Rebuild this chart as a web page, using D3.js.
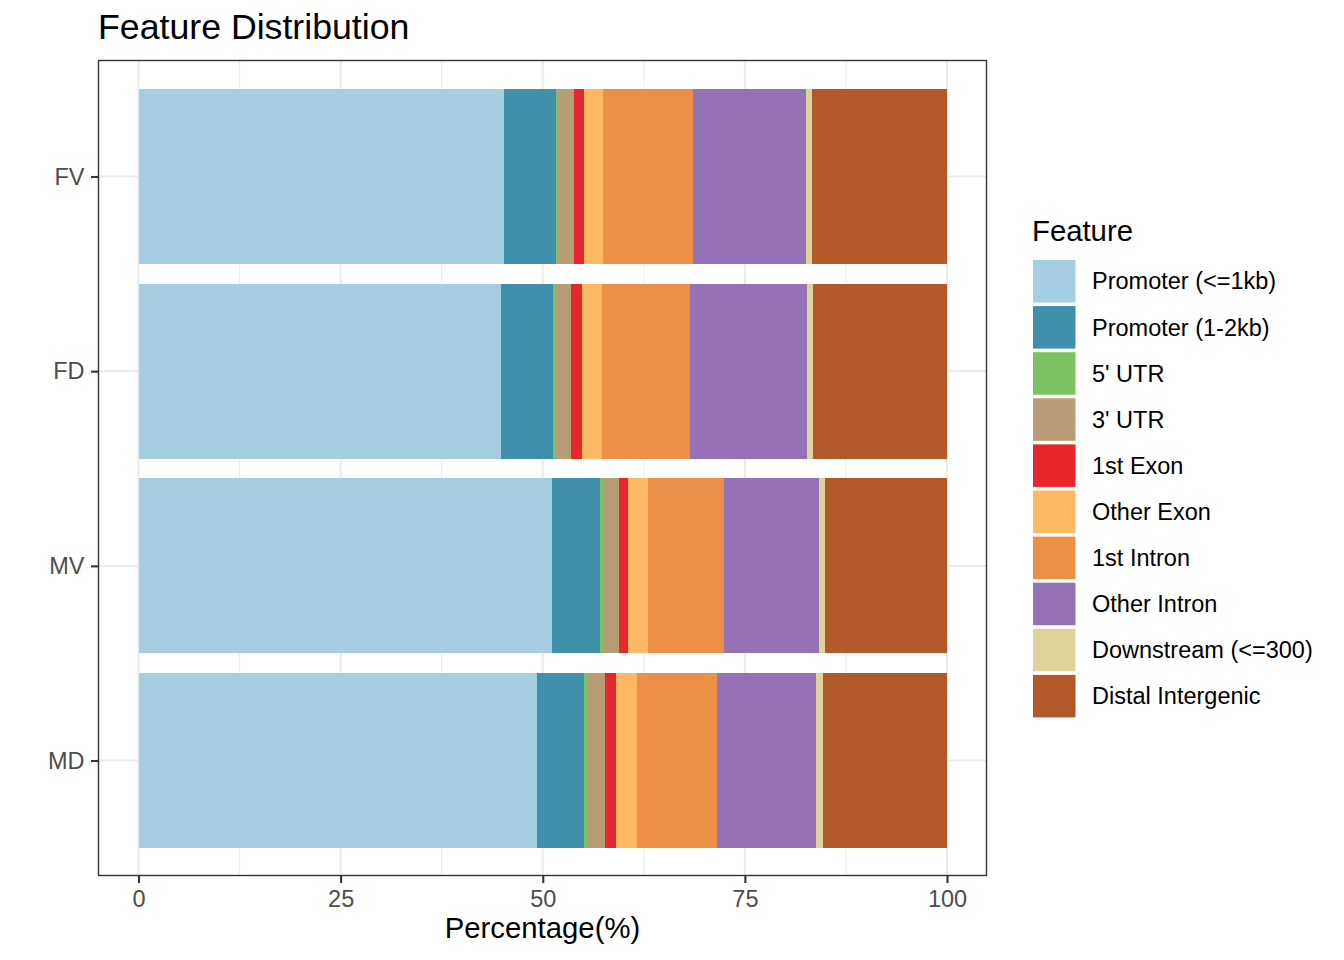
<!DOCTYPE html>
<html>
<head>
<meta charset="utf-8">
<script src="https://cdn.jsdelivr.net/npm/d3@7"></script>
<style>
  html, body { margin: 0; padding: 0; background: #fff; }
  svg { display: block; font-family: "Liberation Sans", Arial, sans-serif; }
</style>
</head>
<body>
<svg id="chart" width="1344" height="960"></svg>
<script>
// ---- data ----
const samples = ["FV", "FD", "MV", "MD"];
const features = ["Promoter (<=1kb)", "Promoter (1-2kb)", "5' UTR", "3' UTR", "1st Exon",
                  "Other Exon", "1st Intron", "Other Intron", "Downstream (<=300)", "Distal Intergenic"];
const colors = ["#A6CEE3", "#408FAB", "#7AC360", "#B89C75", "#E6282A",
                "#FDB863", "#ED9047", "#9571B5", "#DED499", "#B15928"];
const valuesFV = [45.24, 6.43, 0.25, 1.97, 1.24, 2.35, 11.12, 13.97, 0.74, 16.69];
const valuesFD = [44.87, 6.43, 0.25, 1.97, 1.36, 2.47, 10.88, 14.46, 0.75, 16.56];
const valuesMV = [51.17, 5.94, 0.37, 1.98, 1.11, 2.47, 9.39, 11.75, 0.74, 15.08];
const valuesMD = [49.32, 5.81, 0.37, 2.22, 1.37, 2.59, 9.89, 12.24, 0.86, 15.33];
const xTicks = [0, 25, 50, 75, 100];
const xMinor = [12.5, 37.5, 62.5, 87.5];
const titleText = "Feature Distribution";
const xTitle = "Percentage(%)";
const legendTitle = "Feature";

const valuesBySample = { FV: valuesFV, FD: valuesFD, MV: valuesMV, MD: valuesMD };

// ---- layout ----
const svg = d3.select("#chart");
const panel = { left: 98.5, right: 986.5, top: 60.5, bottom: 875.5 };

const x = d3.scaleLinear().domain([0, 100]).range([138.5, 947]);
const yPos = d3.scaleLinear().domain([1, samples.length]).range([176.5, 760.5]);
const yCenter = s => yPos(samples.indexOf(s) + 1);
const halfBar = 0.4495;

// panel background
svg.append("rect").attr("x", panel.left).attr("y", panel.top)
  .attr("width", panel.right - panel.left).attr("height", panel.bottom - panel.top)
  .attr("fill", "#fff");

// grid
const grid = svg.append("g");
grid.selectAll(".minor").data(xMinor).join("line")
  .attr("x1", d => x(d)).attr("x2", d => x(d))
  .attr("y1", panel.top).attr("y2", panel.bottom)
  .attr("stroke", "#EBEBEB").attr("stroke-width", 1);
grid.selectAll(".major").data(xTicks).join("line")
  .attr("x1", d => x(d)).attr("x2", d => x(d))
  .attr("y1", panel.top).attr("y2", panel.bottom)
  .attr("stroke", "#EBEBEB").attr("stroke-width", 2.1);
grid.selectAll(".hmajor").data(samples).join("line")
  .attr("x1", panel.left).attr("x2", panel.right)
  .attr("y1", d => yCenter(d)).attr("y2", d => yCenter(d))
  .attr("stroke", "#EBEBEB").attr("stroke-width", 2.1);

// bars
const barsG = svg.append("g");
samples.forEach(s => {
  const vals = valuesBySample[s];
  let cum = 0;
  const segs = vals.map((v, i) => { const seg = { x0: cum, x1: cum + v, i }; cum += v; return seg; });
  const total = cum;
  const p = samples.indexOf(s) + 1;
  barsG.append("g").selectAll("rect").data(segs).join("rect")
    .attr("x", d => x(d.x0 / total * 100))
    .attr("width", d => x(d.x1 / total * 100) - x(d.x0 / total * 100))
    .attr("y", yPos(p - halfBar))
    .attr("height", yPos(p + halfBar) - yPos(p - halfBar))
    .attr("fill", d => colors[d.i])
    .attr("shape-rendering", "crispEdges");
});

// panel border
svg.append("rect").attr("x", panel.left).attr("y", panel.top)
  .attr("width", panel.right - panel.left).attr("height", panel.bottom - panel.top)
  .attr("fill", "none").attr("stroke", "#333333").attr("stroke-width", 1.4);

// x axis
const xAxis = d3.axisBottom(x).tickValues(xTicks).tickSize(7.5).tickPadding(7).tickFormat(d3.format("d"));
const xg = svg.append("g").attr("transform", `translate(0,${panel.bottom})`).call(xAxis);
xg.select(".domain").remove();
xg.selectAll(".tick line").attr("stroke", "#333333").attr("stroke-width", 2.1);
xg.selectAll(".tick text").attr("fill", "#4D4D4D").attr("font-size", 23.5)
  .attr("font-family", "Liberation Sans, Arial, sans-serif").attr("dy", "0.71em");

// y axis
const yBand = d3.scalePoint().domain(samples).range([yCenter(samples[0]), yCenter(samples[samples.length - 1])]);
const yAxis = d3.axisLeft(yBand).tickSize(7.5).tickPadding(6.5);
const yg = svg.append("g").attr("transform", `translate(${panel.left},0)`).call(yAxis);
yg.select(".domain").remove();
yg.selectAll(".tick line").attr("stroke", "#333333").attr("stroke-width", 2.1);
yg.selectAll(".tick text").attr("fill", "#4D4D4D").attr("font-size", 23.5)
  .attr("font-family", "Liberation Sans, Arial, sans-serif");

// titles
svg.append("text").attr("x", 98).attr("y", 39).text(titleText)
  .attr("font-size", 35.7).attr("fill", "#000");
svg.append("text").attr("x", (panel.left + panel.right) / 2).attr("y", 938)
  .attr("text-anchor", "middle").text(xTitle)
  .attr("font-size", 29.3).attr("fill", "#000");

// legend
const leg = svg.append("g");
leg.append("text").attr("x", 1032).attr("y", 241).text(legendTitle)
  .attr("font-size", 29.3).attr("fill", "#000");
const keyStep = 46.1, keyTop = 260, keySize = 42.5;
const items = leg.selectAll(".item").data(features).join("g")
  .attr("transform", (d, i) => `translate(1033,${keyTop + i * keyStep})`);
items.append("rect").attr("width", keySize).attr("height", keySize)
  .attr("fill", (d, i) => colors[i]);
items.append("text").attr("x", 59).attr("y", keySize / 2).attr("dy", "0.35em")
  .text(d => d).attr("font-size", 23.5).attr("fill", "#000");
</script>
</body>
</html>
